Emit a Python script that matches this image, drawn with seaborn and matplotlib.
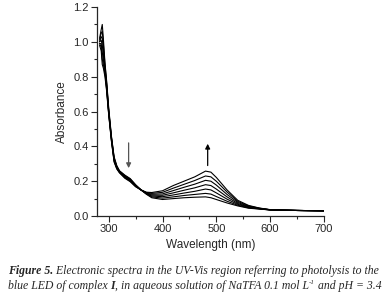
import numpy as np
import pandas as pd
import seaborn as sns
import matplotlib.pyplot as plt
from matplotlib.ticker import MultipleLocator

# wavelengths (nm) sampled along the spectra
wavelength = [283, 286, 288, 290, 293, 296, 300, 305, 310, 315, 320, 330, 340, 350,
              360, 370, 380, 400, 420, 440, 460, 480, 490, 500, 520, 540, 560, 580,
              600, 650, 700]

# absorbance of the 7 spectra, from start of photolysis (s0) to end (s6)
s0 = [1.02, 1.07, 1.10, 1.02, 0.88, 0.78, 0.62, 0.46, 0.34, 0.29, 0.26, 0.235, 0.215, 0.180,
      0.150, 0.125, 0.105, 0.095, 0.100, 0.105, 0.108, 0.110, 0.105, 0.095, 0.075, 0.058,
      0.045, 0.040, 0.035, 0.032, 0.030]
s1 = [1.01, 1.05, 1.06, 0.99, 0.87, 0.77, 0.61, 0.455, 0.335, 0.285, 0.258, 0.232, 0.212, 0.178,
      0.150, 0.127, 0.110, 0.103, 0.110, 0.118, 0.124, 0.130, 0.126, 0.112, 0.085, 0.062,
      0.047, 0.041, 0.035, 0.032, 0.030]
s2 = [1.00, 1.03, 1.02, 0.96, 0.85, 0.76, 0.60, 0.45, 0.33, 0.282, 0.256, 0.229, 0.209, 0.176,
      0.150, 0.129, 0.115, 0.111, 0.121, 0.132, 0.142, 0.155, 0.150, 0.133, 0.097, 0.067,
      0.050, 0.042, 0.035, 0.032, 0.030]
s3 = [1.00, 1.01, 0.98, 0.93, 0.84, 0.75, 0.60, 0.445, 0.325, 0.279, 0.254, 0.226, 0.206, 0.174,
      0.150, 0.131, 0.120, 0.119, 0.133, 0.148, 0.162, 0.180, 0.175, 0.155, 0.110, 0.072,
      0.052, 0.043, 0.036, 0.032, 0.030]
s4 = [0.99, 0.99, 0.94, 0.90, 0.83, 0.74, 0.59, 0.44, 0.32, 0.276, 0.252, 0.223, 0.203, 0.172,
      0.150, 0.133, 0.125, 0.127, 0.146, 0.165, 0.183, 0.205, 0.200, 0.178, 0.124, 0.078,
      0.055, 0.044, 0.036, 0.032, 0.030]
s5 = [0.99, 0.97, 0.90, 0.87, 0.82, 0.73, 0.585, 0.435, 0.315, 0.273, 0.250, 0.220, 0.200, 0.170,
      0.150, 0.135, 0.130, 0.136, 0.160, 0.182, 0.204, 0.230, 0.225, 0.200, 0.138, 0.084,
      0.058, 0.045, 0.036, 0.032, 0.030]
s6 = [0.98, 0.95, 0.87, 0.85, 0.80, 0.72, 0.58, 0.43, 0.31, 0.270, 0.248, 0.217, 0.197, 0.168,
      0.150, 0.137, 0.135, 0.145, 0.175, 0.200, 0.225, 0.258, 0.252, 0.222, 0.150, 0.090,
      0.061, 0.046, 0.037, 0.032, 0.030]

spectra = [s0, s1, s2, s3, s4, s5, s6]

caption_1a = "Figure 5."
caption_1b = " Electronic spectra in the UV-Vis region referring to photolysis to the"
caption_2a = "blue LED of complex "
caption_2b = "I"
caption_2c = ", in aqueous solution of NaTFA 0.1 mol L"
caption_2d = "-1"
caption_2e = " and pH = 3.4"


def main():
    sns.set_style("ticks")
    plt.rcParams['font.family'] = ['Liberation Sans', 'DejaVu Sans']

    df = pd.DataFrame({
        'wavelength': np.tile(wavelength, len(spectra)),
        'absorbance': np.concatenate(spectra),
        'run': np.repeat(range(len(spectra)), len(wavelength)),
    })

    fig = plt.figure(figsize=(3.86, 3.06), dpi=100)
    ax = fig.add_axes([0.251, 0.294, 0.588, 0.683])

    sns.lineplot(data=df, x='wavelength', y='absorbance', units='run', estimator=None,
                 color='black', linewidth=0.8, ax=ax, legend=False)

    ax.set_xlim(278, 700)
    ax.set_ylim(0, 1.2)
    ax.xaxis.set_major_locator(MultipleLocator(100))
    ax.xaxis.set_minor_locator(MultipleLocator(50))
    ax.yaxis.set_major_locator(MultipleLocator(0.2))
    ax.yaxis.set_minor_locator(MultipleLocator(0.1))
    ax.yaxis.set_major_formatter(plt.FuncFormatter(lambda v, p: f"{v:.1f}"))
    ax.tick_params(which='major', direction='out', length=4, width=0.8, labelsize=8, pad=2)
    ax.tick_params(which='minor', direction='out', length=2.5, width=0.8)
    for s in ['left', 'bottom']:
        ax.spines[s].set_linewidth(0.9)
    sns.despine(ax=ax)

    ax.set_xlabel("Wavelength (nm)", fontsize=8.5, labelpad=3)
    ax.set_ylabel("Absorbance", fontsize=8.5, labelpad=4)

    # arrows showing direction of change
    ax.annotate("", xy=(337, 0.275), xytext=(337, 0.42),
                arrowprops=dict(arrowstyle='-|>', color='#555555', lw=0.9,
                                mutation_scale=7, shrinkA=0, shrinkB=0))
    ax.annotate("", xy=(484, 0.415), xytext=(484, 0.29),
                arrowprops=dict(arrowstyle='-|>', color='black', lw=0.9,
                                mutation_scale=7, shrinkA=0, shrinkB=0))

    # caption, pieces chained one after another
    serif = ['Liberation Serif', 'DejaVu Serif']
    fs = 8.5
    t1 = fig.text(0.02, 0.105, caption_1a, family=serif, style='italic',
                  weight='bold', fontsize=fs)
    ax.annotate(caption_1b, xy=(1, 0), xycoords=t1, va='bottom', ha='left',
                family=serif, style='italic', fontsize=fs, annotation_clip=False)

    t2 = fig.text(0.02, 0.057, caption_2a, family=serif, style='italic', fontsize=fs)
    t3 = ax.annotate(caption_2b, xy=(1, 0), xycoords=t2, va='bottom', ha='left',
                     family=serif, style='italic', weight='bold', fontsize=fs,
                     annotation_clip=False)
    t4 = ax.annotate(caption_2c, xy=(1, 0), xycoords=t3, va='bottom', ha='left',
                     family=serif, style='italic', fontsize=fs, annotation_clip=False)
    t5 = ax.annotate(caption_2d, xy=(1, 0.55), xycoords=t4, va='bottom', ha='left',
                     family=serif, style='italic', fontsize=5, annotation_clip=False)
    ax.annotate(caption_2e, xy=(1, 0), xycoords=(t5, t4), va='bottom', ha='left',
                family=serif, style='italic', fontsize=fs, annotation_clip=False)

    fig.savefig("out.png", dpi=100)


if __name__ == "__main__":
    main()
